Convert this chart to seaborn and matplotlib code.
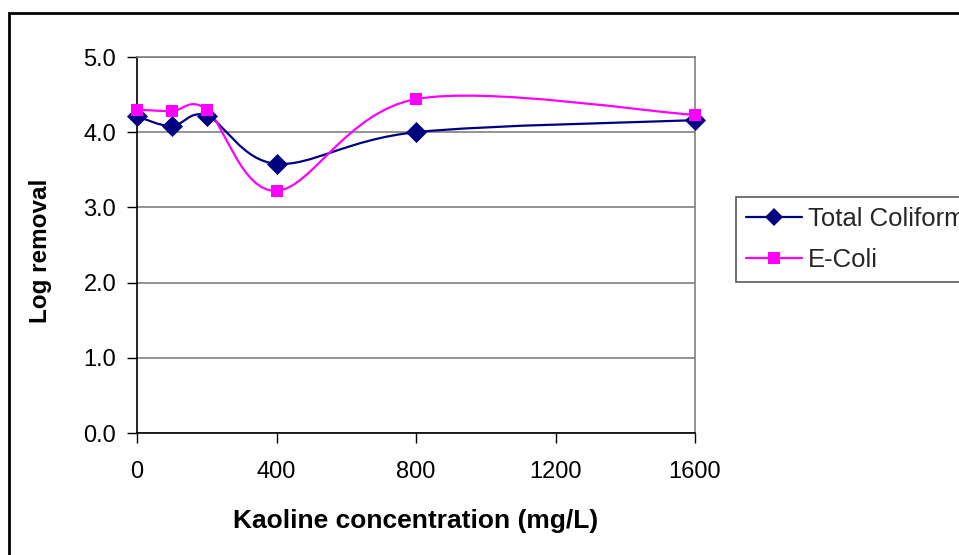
import numpy as np
import pandas as pd
import matplotlib
matplotlib.use("Agg")
import matplotlib.pyplot as plt
import seaborn as sns
from matplotlib.path import Path
from matplotlib.patches import PathPatch, Rectangle
from matplotlib.lines import Line2D

# ---- data ----
concentration = [0, 100, 200, 400, 800, 1600]
total_coliform = [4.21, 4.08, 4.22, 3.58, 4.00, 4.16]
e_coli = [4.30, 4.28, 4.30, 3.22, 4.44, 4.23]
series_names = ["Total Coliform", "E-Coli"]
x_ticks = [0, 400, 800, 1200, 1600]
y_ticks = [0.0, 1.0, 2.0, 3.0, 4.0, 5.0]

sns.set_theme(style="white")
plt.rcParams['font.family'] = ['Liberation Sans', 'DejaVu Sans']

fig = plt.figure(figsize=(9.59, 5.55), dpi=100)
ax = fig.add_axes([137/959, 1-433/555, (695-137)/959, (433-57)/555])

colors = {"Total Coliform": "#000080", "E-Coli": "#FF00FF"}
markers = {"Total Coliform": "D", "E-Coli": "s"}
msize = {"Total Coliform": 115, "E-Coli": 85}


def smooth_path(xs, ys):
    pts = np.column_stack([xs, ys]).astype(float)
    n = len(pts)
    verts = [pts[0]]
    codes = [Path.MOVETO]
    for i in range(n - 1):
        p0 = pts[i - 1] if i > 0 else pts[i]
        p1 = pts[i]
        p2 = pts[i + 1]
        p3 = pts[i + 2] if i + 2 < n else pts[i + 1]
        c1 = p1 + (p2 - p0) / 6.0
        c2 = p2 - (p3 - p1) / 6.0
        verts += [c1, c2, p2]
        codes += [Path.CURVE4] * 3
    return Path(verts, codes)


df = pd.DataFrame({
    "x": concentration * 2,
    "y": total_coliform + e_coli,
    "series": [series_names[0]] * len(concentration) + [series_names[1]] * len(concentration),
})

for name, vals in zip(series_names, [total_coliform, e_coli]):
    ax.add_patch(PathPatch(smooth_path(concentration, vals), facecolor="none",
                           edgecolor=colors[name], lw=1.6, zorder=3))

for name in series_names:
    sub = df[df.series == name]
    sns.scatterplot(data=sub, x="x", y="y", ax=ax, color=colors[name],
                    marker=markers[name], s=msize[name], edgecolor=colors[name],
                    linewidth=0, zorder=4, legend=False, clip_on=False)

ax.set_xlim(0, 1600)
ax.set_ylim(0, 5)
ax.set_xticks(x_ticks)
ax.set_yticks(y_ticks)
ax.set_xticklabels([str(t) for t in x_ticks], fontsize=17)
ax.set_yticklabels([f"{t:.1f}" for t in y_ticks], fontsize=17)
ax.yaxis.grid(True, color="#808080", lw=1.2)
ax.xaxis.grid(False)
ax.set_axisbelow(True)
for s in ["left", "bottom"]:
    ax.spines[s].set_color("black")
    ax.spines[s].set_linewidth(1.2)
ax.spines["right"].set_color("#808080")
ax.spines["right"].set_linewidth(1.2)
ax.spines["top"].set_color("#808080")
ax.spines["top"].set_linewidth(1.2)
ax.tick_params(axis="both", direction="out", length=7, width=1, color="black",
               left=True, bottom=True, labelcolor="black")
ax.tick_params(axis="x", pad=13)
ax.tick_params(axis="y", pad=8)

ax.set_xlabel("Kaoline concentration (mg/L)", fontsize=19, fontweight="bold",
              labelpad=19, color="black")
ax.set_ylabel("Log removal", fontsize=17.5, fontweight="bold", color="black")
ax.yaxis.set_label_coords(-0.152, 0.485)

handles = [Line2D([0], [0], color=colors[n], marker=markers[n], lw=1.6,
                  markersize=9.5 if n == "Total Coliform" else 8, markeredgewidth=0)
           for n in series_names]
leg = fig.legend(handles, series_names, loc="upper left",
                 bbox_to_anchor=(736/959, 1-197/555), frameon=True, fancybox=False,
                 fontsize=18.5, handlelength=2.15, handletextpad=0.25, borderpad=0.4,
                 labelspacing=0.65, borderaxespad=0)
leg.get_frame().set_edgecolor("#303030")
leg.get_frame().set_linewidth(1.2)

fig.patches.append(Rectangle((9/959, -0.1), 1.2, 1 - 13/555 + 0.1, transform=fig.transFigure,
                             facecolor="none", edgecolor="black", lw=2, zorder=0))

fig.savefig("out.png", dpi=100, facecolor="white")
